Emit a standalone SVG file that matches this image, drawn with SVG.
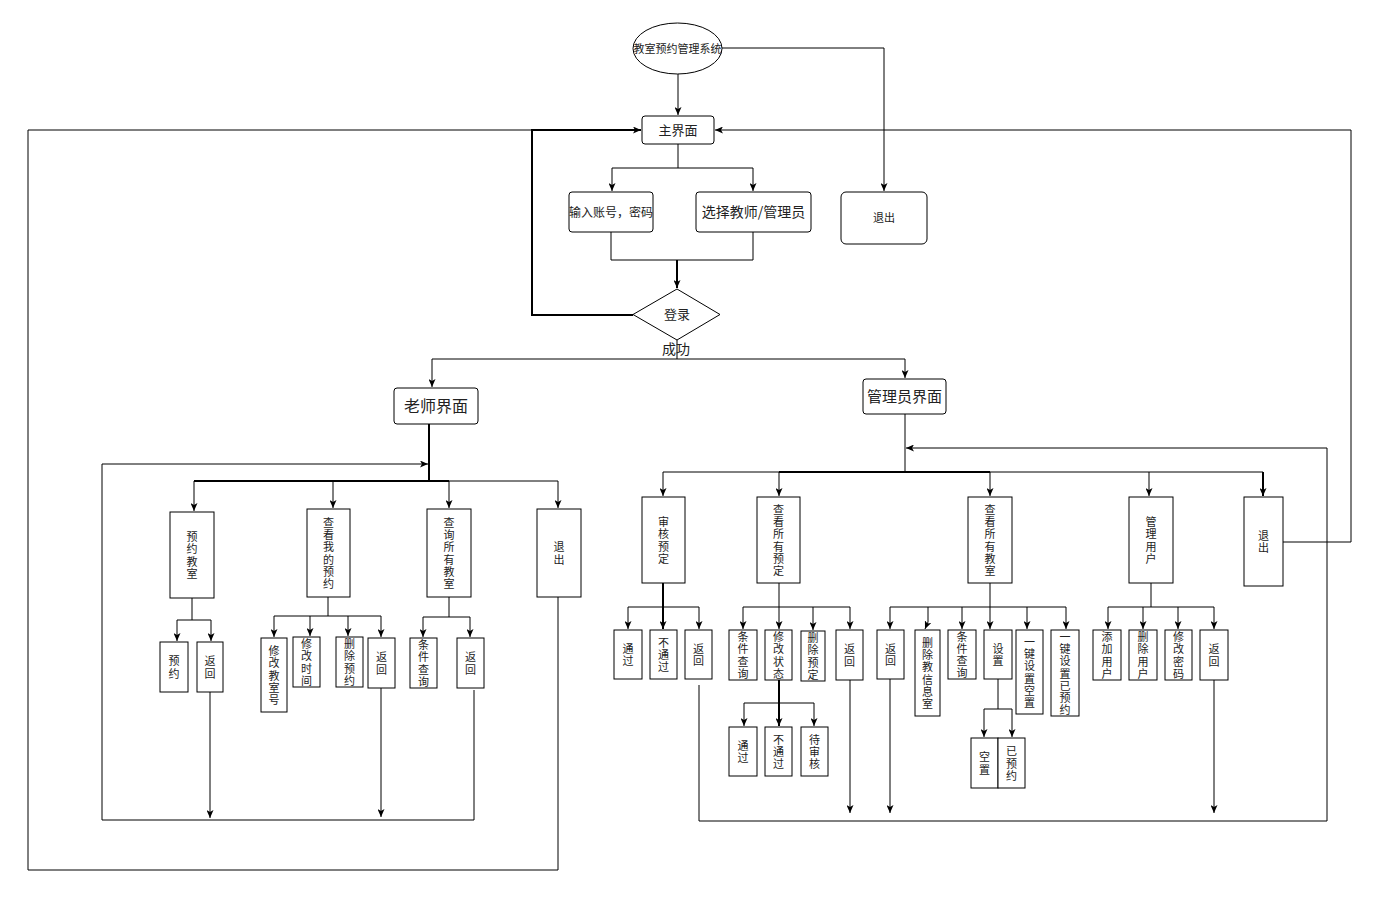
<svg xmlns="http://www.w3.org/2000/svg" width="1380" height="900" viewBox="0 0 1380 900">
<defs>
<marker id="ah" viewBox="0 0 8 7" markerWidth="8" markerHeight="7" refX="8" refY="3.5" orient="auto" markerUnits="userSpaceOnUse">
<path d="M0,0 L8,3.5 L0,7 L2,3.5 z" fill="#000"/>
</marker>
<style>
.b{fill:#fff;stroke:#000;stroke-width:1}
.c{fill:none;stroke:#000;stroke-width:1}
.t{stroke-width:2}
.a{marker-end:url(#ah)}
.v{font-family:"Noto Sans CJK SC","Noto Sans",sans-serif;font-size:11px;text-anchor:middle;fill:#222}
.h{font-family:"Noto Sans CJK SC","Noto Sans",sans-serif;text-anchor:middle;fill:#222}
</style>
</defs>
<rect width="1380" height="900" fill="#fff"/>

<g id="connectors">
<path class="c a" d="M678,74 V115"/>
<path class="c a" d="M722,48 H884 V191"/>
<path class="c" d="M678,144 V168 M612,168 H753"/>
<path class="c a" d="M612,168 V191"/>
<path class="c a" d="M753,168 V191"/>
<path class="c" d="M611,232 V260 H753 V232"/>
<path class="c t a" d="M677,260 V288"/>
<path class="c t a" d="M633,315 H532 V130 H641"/>
<path class="c" d="M558,597 V870 H28 V130 H532"/>
<path class="c a" d="M1283,542 H1351 V130 H715"/>
<path class="c" d="M677,340 V359 M432,359 H905"/>
<path class="c a" d="M432,359 V387"/>
<path class="c a" d="M905,359 V378"/>
<!-- teacher -->
<path class="c t" d="M429,424 V481 M194,481 H449"/>
<path class="c" d="M449,481 H558"/>
<path class="c a" d="M474,690 V820 H102 V464 H428"/>
<path class="c a" d="M194,481 V511"/>
<path class="c a" d="M333,481 V508"/>
<path class="c a" d="M449,481 V508"/>
<path class="c a" d="M558,481 V508"/>
<path class="c" d="M192,598 V620 M177,620 H211"/>
<path class="c a" d="M177,620 V641"/>
<path class="c a" d="M211,620 V641"/>
<path class="c a" d="M210,692 V818"/>
<path class="c" d="M328,597 V616 M274,616 H381"/>
<path class="c a" d="M274,616 V637"/>
<path class="c a" d="M310,616 V636"/>
<path class="c a" d="M348,616 V636"/>
<path class="c a" d="M381,616 V637"/>
<path class="c a" d="M381,688 V817"/>
<path class="c" d="M449,597 V617 M423,617 H470"/>
<path class="c a" d="M423,617 V637"/>
<path class="c a" d="M470,617 V637"/>
<!-- admin -->
<path class="c" d="M905,414 V472 M663,472 H779"/>
<path class="c t" d="M779,472 H990"/>
<path class="c" d="M990,472 H1263"/>
<path class="c a" d="M663,472 V496"/>
<path class="c a" d="M779,472 V496"/>
<path class="c a" d="M990,472 V496"/>
<path class="c a" d="M1149,472 V496"/>
<path class="c t a" d="M1263,472 V496"/>
<path class="c a" d="M699,685 V821 H1327 V448 H906"/>
<path class="c t a" d="M663,583 V629"/>
<path class="c" d="M628,607 H699"/>
<path class="c a" d="M628,607 V629"/>
<path class="c a" d="M699,607 V629"/>
<path class="c a" d="M779,583 V629"/>
<path class="c" d="M743,607 H850"/>
<path class="c a" d="M743,607 V629"/>
<path class="c a" d="M813,607 V630"/>
<path class="c a" d="M850,607 V629"/>
<path class="c t a" d="M779,680 V726"/>
<path class="c" d="M744,703 H814"/>
<path class="c a" d="M744,703 V726"/>
<path class="c a" d="M814,703 V726"/>
<path class="c a" d="M850,680 V813"/>
<path class="c" d="M990,583 V607 M890,607 H1066"/>
<path class="c a" d="M890,607 V629"/>
<path class="c a" d="M928,607 V622 L925,629"/>
<path class="c a" d="M962,607 V629"/>
<path class="c a" d="M990,607 V629"/>
<path class="c a" d="M1027,607 V629"/>
<path class="c a" d="M1066,607 V629"/>
<path class="c a" d="M890,679 V813"/>
<path class="c" d="M998,679 V709 M984,709 H1012"/>
<path class="c a" d="M984,709 V737"/>
<path class="c a" d="M1012,709 V737"/>
<path class="c" d="M1151,583 V607 M1108,607 H1214"/>
<path class="c a" d="M1108,607 V629"/>
<path class="c a" d="M1143,607 V629"/>
<path class="c a" d="M1178,607 V629"/>
<path class="c a" d="M1214,607 V629"/>
<path class="c a" d="M1214,680 V813"/>
</g>

<g id="n-system"><ellipse class="b" cx="677.5" cy="48.5" rx="44.5" ry="25.5"/><text class="h" x="677.5" y="52.5" font-size="11">教室预约管理系统</text></g>
<g id="n-main"><rect class="b" x="642" y="116" width="72" height="28" rx="3"/><text class="h" x="678" y="134.5" font-size="13">主界面</text></g>
<g id="n-input"><rect class="b" x="569" y="192" width="84" height="40" rx="3"/><text class="h" x="611" y="216.5" font-size="12">输入账号，密码</text></g>
<g id="n-select"><rect class="b" x="696" y="192" width="115" height="40" rx="3"/><text class="h" x="753.5" y="217" font-size="14">选择教师/管理员</text></g>
<g id="n-exit-top"><rect class="b" x="841" y="192" width="86" height="52" rx="5"/><text class="h" x="884" y="222" font-size="11">退出</text></g>
<g id="n-login"><polygon class="b" points="677,289 720,314.5 677,340 633,314.5"/><text class="h" x="677" y="319" font-size="13">登录</text></g>
<g id="l-success"><text class="h" x="676" y="354" font-size="14">成功</text></g>
<g id="n-teacher"><rect class="b" x="394" y="388" width="84" height="36" rx="3"/><text class="h" x="436" y="411.5" font-size="16">老师界面</text></g>
<g id="n-admin"><rect class="b" x="863" y="379" width="83" height="35" rx="3"/><text class="h" x="904.5" y="402" font-size="15">管理员界面</text></g>

<g id="n-t1"><rect class="b" x="170" y="512" width="44" height="86"/><text class="v" x="192" y="541.05">预<tspan x="192" dy="12.3">约</tspan><tspan x="192" dy="12.3">教</tspan><tspan x="192" dy="12.3">室</tspan></text></g>
<g id="n-t2"><rect class="b" x="307" y="509" width="43" height="88"/><text class="v" x="328.5" y="526.75">查<tspan x="328.5" dy="12.3">看</tspan><tspan x="328.5" dy="12.3">我</tspan><tspan x="328.5" dy="12.3">的</tspan><tspan x="328.5" dy="12.3">预</tspan><tspan x="328.5" dy="12.3">约</tspan></text></g>
<g id="n-t3"><rect class="b" x="427" y="509" width="44" height="88"/><text class="v" x="449" y="526.75">查<tspan x="449" dy="12.3">询</tspan><tspan x="449" dy="12.3">所</tspan><tspan x="449" dy="12.3">有</tspan><tspan x="449" dy="12.3">教</tspan><tspan x="449" dy="12.3">室</tspan></text></g>
<g id="n-t4"><rect class="b" x="537" y="509" width="44" height="88"/><text class="v" x="559" y="551.35">退<tspan x="559" dy="12.3">出</tspan></text></g>
<g id="n-t1a"><rect class="b" x="160" y="642" width="28" height="50"/><text class="v" x="174" y="665.35">预<tspan x="174" dy="12.3">约</tspan></text></g>
<g id="n-t1b"><rect class="b" x="197" y="642" width="26" height="50"/><text class="v" x="210" y="665.35">返<tspan x="210" dy="12.3">回</tspan></text></g>
<g id="n-t2a"><rect class="b" x="261" y="638" width="26" height="74"/><text class="v" x="274" y="654.9">修<tspan x="274" dy="12.3">改</tspan><tspan x="274" dy="12.3">教</tspan><tspan x="274" dy="12.3">室</tspan><tspan x="274" dy="12.3">号</tspan></text></g>
<g id="n-t2b"><rect class="b" x="293" y="637" width="27" height="50"/><text class="v" x="306.5" y="648.05">修<tspan x="306.5" dy="12.3">改</tspan><tspan x="306.5" dy="12.3">时</tspan><tspan x="306.5" dy="12.3">间</tspan></text></g>
<g id="n-t2c"><rect class="b" x="336" y="637" width="27" height="50"/><text class="v" x="349.5" y="648.05">删<tspan x="349.5" dy="12.3">除</tspan><tspan x="349.5" dy="12.3">预</tspan><tspan x="349.5" dy="12.3">约</tspan></text></g>
<g id="n-t2d"><rect class="b" x="368" y="638" width="27" height="50"/><text class="v" x="381.5" y="661.35">返<tspan x="381.5" dy="12.3">回</tspan></text></g>
<g id="n-t3a"><rect class="b" x="410" y="638" width="27" height="50"/><text class="v" x="423.5" y="649.05">条<tspan x="423.5" dy="12.3">件</tspan><tspan x="423.5" dy="12.3">查</tspan><tspan x="423.5" dy="12.3">询</tspan></text></g>
<g id="n-t3b"><rect class="b" x="457" y="638" width="27" height="50"/><text class="v" x="470.5" y="661.35">返<tspan x="470.5" dy="12.3">回</tspan></text></g>

<g id="n-a1"><rect class="b" x="642" y="497" width="43" height="86"/><text class="v" x="663.5" y="526.05">审<tspan x="663.5" dy="12.3">核</tspan><tspan x="663.5" dy="12.3">预</tspan><tspan x="663.5" dy="12.3">定</tspan></text></g>
<g id="n-a2"><rect class="b" x="757" y="497" width="43" height="86"/><text class="v" x="778.5" y="513.75">查<tspan x="778.5" dy="12.3">看</tspan><tspan x="778.5" dy="12.3">所</tspan><tspan x="778.5" dy="12.3">有</tspan><tspan x="778.5" dy="12.3">预</tspan><tspan x="778.5" dy="12.3">定</tspan></text></g>
<g id="n-a3"><rect class="b" x="968" y="497" width="44" height="86"/><text class="v" x="990" y="513.75">查<tspan x="990" dy="12.3">看</tspan><tspan x="990" dy="12.3">所</tspan><tspan x="990" dy="12.3">有</tspan><tspan x="990" dy="12.3">教</tspan><tspan x="990" dy="12.3">室</tspan></text></g>
<g id="n-a4"><rect class="b" x="1129" y="497" width="44" height="86"/><text class="v" x="1151" y="526.05">管<tspan x="1151" dy="12.3">理</tspan><tspan x="1151" dy="12.3">用</tspan><tspan x="1151" dy="12.3">户</tspan></text></g>
<g id="n-a5"><rect class="b" x="1244" y="497" width="39" height="89"/><text class="v" x="1263.5" y="539.85">退<tspan x="1263.5" dy="12.3">出</tspan></text></g>
<g id="n-a1a"><rect class="b" x="614" y="630" width="28" height="49"/><text class="v" x="628" y="652.85">通<tspan x="628" dy="12.3">过</tspan></text></g>
<g id="n-a1b"><rect class="b" x="650" y="630" width="27" height="49"/><text class="v" x="663.5" y="646.7">不<tspan x="663.5" dy="12.3">通</tspan><tspan x="663.5" dy="12.3">过</tspan></text></g>
<g id="n-a1c"><rect class="b" x="685" y="630" width="27" height="49"/><text class="v" x="698.5" y="652.85">返<tspan x="698.5" dy="12.3">回</tspan></text></g>
<g id="n-a2a"><rect class="b" x="729" y="630" width="28" height="50"/><text class="v" x="743" y="641.05">条<tspan x="743" dy="12.3">件</tspan><tspan x="743" dy="12.3">查</tspan><tspan x="743" dy="12.3">询</tspan></text></g>
<g id="n-a2b"><rect class="b" x="765" y="630" width="27" height="50"/><text class="v" x="778.5" y="641.05">修<tspan x="778.5" dy="12.3">改</tspan><tspan x="778.5" dy="12.3">状</tspan><tspan x="778.5" dy="12.3">态</tspan></text></g>
<g id="n-a2c"><rect class="b" x="801" y="631" width="24" height="50"/><text class="v" x="813" y="642.05">删<tspan x="813" dy="12.3">除</tspan><tspan x="813" dy="12.3">预</tspan><tspan x="813" dy="12.3">定</tspan></text></g>
<g id="n-a2d"><rect class="b" x="836" y="630" width="27" height="50"/><text class="v" x="849.5" y="653.35">返<tspan x="849.5" dy="12.3">回</tspan></text></g>
<g id="n-a2b1"><rect class="b" x="729" y="727" width="28" height="49"/><text class="v" x="743" y="749.85">通<tspan x="743" dy="12.3">过</tspan></text></g>
<g id="n-a2b2"><rect class="b" x="765" y="727" width="27" height="49"/><text class="v" x="778.5" y="743.7">不<tspan x="778.5" dy="12.3">通</tspan><tspan x="778.5" dy="12.3">过</tspan></text></g>
<g id="n-a2b3"><rect class="b" x="801" y="727" width="27" height="49"/><text class="v" x="814.5" y="743.7">待<tspan x="814.5" dy="12.3">审</tspan><tspan x="814.5" dy="12.3">核</tspan></text></g>
<g id="n-a3a"><rect class="b" x="877" y="630" width="27" height="49"/><text class="v" x="890.5" y="652.85">返<tspan x="890.5" dy="12.3">回</tspan></text></g>
<g id="n-a3b"><rect class="b" x="915" y="630" width="25" height="86"/><text class="v" x="927.5" y="646.75">删<tspan x="927.5" dy="12.3">除</tspan><tspan x="927.5" dy="12.3">教</tspan><tspan x="927.5" dy="12.3">信</tspan><tspan x="927.5" dy="12.3">息</tspan><tspan x="927.5" dy="12.3">室</tspan></text></g>
<g id="n-a3c"><rect class="b" x="948" y="630" width="28" height="49"/><text class="v" x="962" y="640.55">条<tspan x="962" dy="12.3">件</tspan><tspan x="962" dy="12.3">查</tspan><tspan x="962" dy="12.3">询</tspan></text></g>
<g id="n-a3d"><rect class="b" x="984" y="630" width="28" height="49"/><text class="v" x="998" y="652.85">设<tspan x="998" dy="12.3">置</tspan></text></g>
<g id="n-a3e"><rect class="b" x="1016" y="630" width="27" height="84"/><text class="v" x="1029.5" y="645.75">一<tspan x="1029.5" dy="12.3">键</tspan><tspan x="1029.5" dy="12.3">设</tspan><tspan x="1029.5" dy="12.3">置</tspan><tspan x="1029.5" dy="12.3">空</tspan><tspan x="1029.5" dy="12.3">置</tspan></text></g>
<g id="n-a3f"><rect class="b" x="1051" y="630" width="28" height="86"/><text class="v" x="1065" y="640.6">一<tspan x="1065" dy="12.3">键</tspan><tspan x="1065" dy="12.3">设</tspan><tspan x="1065" dy="12.3">置</tspan><tspan x="1065" dy="12.3">已</tspan><tspan x="1065" dy="12.3">预</tspan><tspan x="1065" dy="12.3">约</tspan></text></g>
<g id="n-a3d1"><rect class="b" x="971" y="738" width="27" height="50"/><text class="v" x="984.5" y="761.35">空<tspan x="984.5" dy="12.3">置</tspan></text></g>
<g id="n-a3d2"><rect class="b" x="998" y="738" width="27" height="50"/><text class="v" x="1011.5" y="755.2">已<tspan x="1011.5" dy="12.3">预</tspan><tspan x="1011.5" dy="12.3">约</tspan></text></g>
<g id="n-a4a"><rect class="b" x="1093" y="630" width="28" height="50"/><text class="v" x="1107" y="641.05">添<tspan x="1107" dy="12.3">加</tspan><tspan x="1107" dy="12.3">用</tspan><tspan x="1107" dy="12.3">户</tspan></text></g>
<g id="n-a4b"><rect class="b" x="1129" y="630" width="28" height="50"/><text class="v" x="1143" y="641.05">删<tspan x="1143" dy="12.3">除</tspan><tspan x="1143" dy="12.3">用</tspan><tspan x="1143" dy="12.3">户</tspan></text></g>
<g id="n-a4c"><rect class="b" x="1165" y="630" width="27" height="50"/><text class="v" x="1178.5" y="641.05">修<tspan x="1178.5" dy="12.3">改</tspan><tspan x="1178.5" dy="12.3">密</tspan><tspan x="1178.5" dy="12.3">码</tspan></text></g>
<g id="n-a4d"><rect class="b" x="1200" y="630" width="28" height="50"/><text class="v" x="1214" y="653.35">返<tspan x="1214" dy="12.3">回</tspan></text></g>
</svg>
